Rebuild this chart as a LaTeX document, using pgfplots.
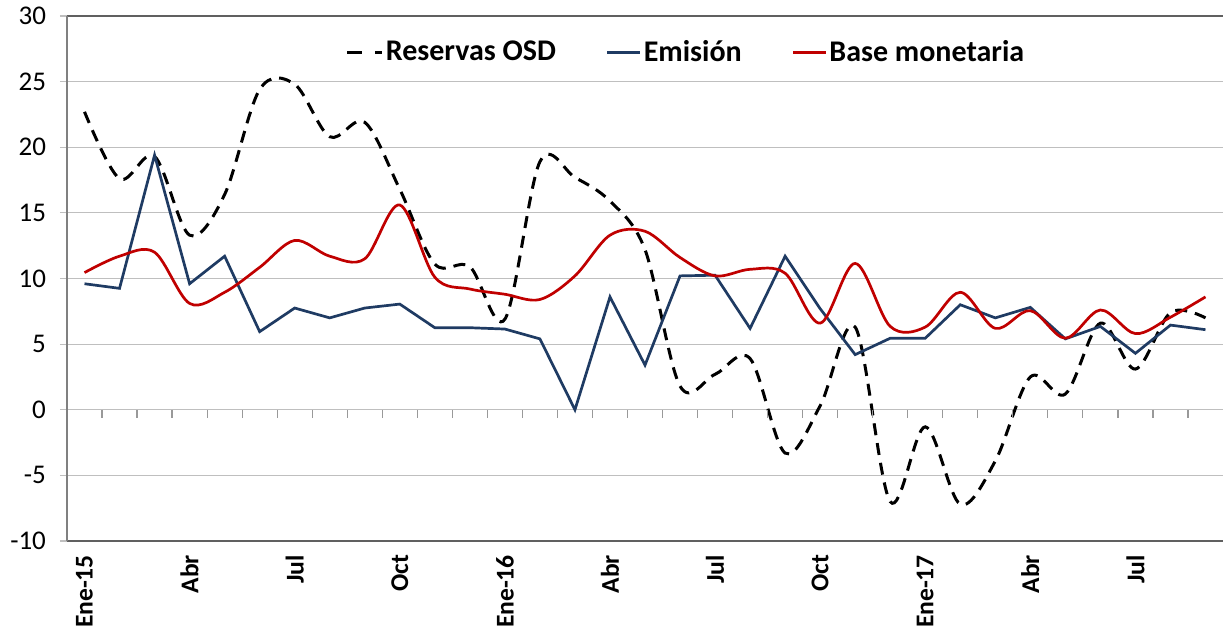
\documentclass[border=0pt]{standalone}
\usepackage{pgfplots}
\usepackage{pgfplotstable}
\pgfplotsset{compat=1.18}
\usepackage{fontspec}
\setmainfont{Carlito}

\definecolor{emiblue}{RGB}{31,59,99}
\definecolor{basered}{RGB}{192,0,0}
\definecolor{gridgray}{RGB}{191,191,191}
\definecolor{framegray}{RGB}{96,96,96}
\definecolor{leftgray}{RGB}{128,128,128}

\pgfplotsset{
  solidlegend/.style={legend image code/.code={\draw[##1] (0pt,0pt) -- (16.5pt,0pt);}},
  dashlegend/.style={legend image code/.code={\draw[##1, dash pattern=on 7.5pt off 6.5pt] (0pt,0pt) -- (17.5pt,0pt);}},
}

% k = month index, 0 = Ene-15
\pgfplotstableread{
k  osd   emi    base
0  22.7  9.6    10.45
1  17.6  9.25   11.7
2  19.3  19.4   12.0
3  13.3  9.6    8.1
4  16.4  11.7   8.95
5  24.4  5.95   10.85
6  24.8  7.75   12.9
7  20.8  7.0    11.7
8  21.9  7.75   11.5
9  16.8  8.05   15.6
10 11.1  6.25   10.1
11 10.9  6.25   9.2
12 6.9   6.15   8.8
13 18.9  5.4    8.4
14 17.7  0.0    10.2
15 15.9  8.6    13.3
16 12.2  3.4    13.6
17 1.8   10.2   11.6
18 2.7   10.25  10.2
19 3.9   6.2    10.7
20 -3.3  11.7   10.4
21 0.3   7.7    6.6
22 6.3   4.2    11.15
23 -7.0  5.45   6.35
24 -1.3  5.45   6.3
25 -7.2  8.0    8.95
26 -3.9  7.0    6.2
27 2.5   7.8    7.55
28 1.2   5.4    5.45
29 6.6   6.35   7.6
30 3.1   4.3    5.8
31 7.4   6.45   7.05
32 7.0   6.1    8.6
}\datatable

\begin{document}
\begin{tikzpicture}
\begin{axis}[
    name=ax,
    scale only axis,
    width=578pt, height=262.5pt,
    xmin=-0.5, xmax=32.5,
    ymin=-10, ymax=30,
    ytick={-10,-5,...,30},
    xtick={0,3,...,30},
    xticklabels={Ene-15,Abr,Jul,Oct,Ene-16,Abr,Jul,Oct,Ene-17,Abr,Jul},
    axis x line=box,
    axis y line*=left,
    x axis line style={draw=framegray, line width=0.8pt},
    y axis line style={draw=leftgray, line width=0.6pt},
    tick align=outside,
    xtick style={draw=none},
    ytick style={draw=gridgray, line width=0.6pt},
    major tick length=3.5pt,
    ymajorgrids,
    grid style={draw=gridgray, line width=0.6pt},
    /pgf/number format/assume math mode=true,
    yticklabel style={font=\fontsize{13.5}{16}\selectfont, xshift=-3.5pt},
    xticklabel style={font=\fontsize{12.8}{15}\selectfont\bfseries, rotate=90, anchor=east},
    legend style={draw=none, fill=none, at={(0.5355,0.931)}, anchor=center,
        font=\fontsize{15}{18}\selectfont\bfseries,
        nodes={inner xsep=1pt},
        /tikz/every even column/.append style={column sep=24pt}},
    legend columns=3,
    solidlegend,
]
\addplot[black, line width=1.5pt, dash pattern=on 6pt off 4pt, smooth, tension=0.55, dashlegend]
    table[x=k, y=osd] {\datatable};
\addlegendentry{Reservas OSD}
\addplot[emiblue, line width=1.35pt] table[x=k, y=emi] {\datatable};
\addlegendentry{Emisión}
\addplot[basered, line width=1.35pt, smooth, tension=0.55] table[x=k, y=base] {\datatable};
\addlegendentry{Base monetaria}
\pgfplotsinvokeforeach{0.5,1.5,...,31.5}{
  \draw[draw=leftgray!80, line width=0.6pt] (axis cs:#1,0) -- ([yshift=-4pt]axis cs:#1,0);
}
\end{axis}
\pgfresetboundingbox
\path[use as bounding box] ([xshift=-33.5pt,yshift=-46pt]ax.south west) rectangle ([xshift=0.5pt,yshift=8pt]ax.north east);
\end{tikzpicture}
\end{document}
